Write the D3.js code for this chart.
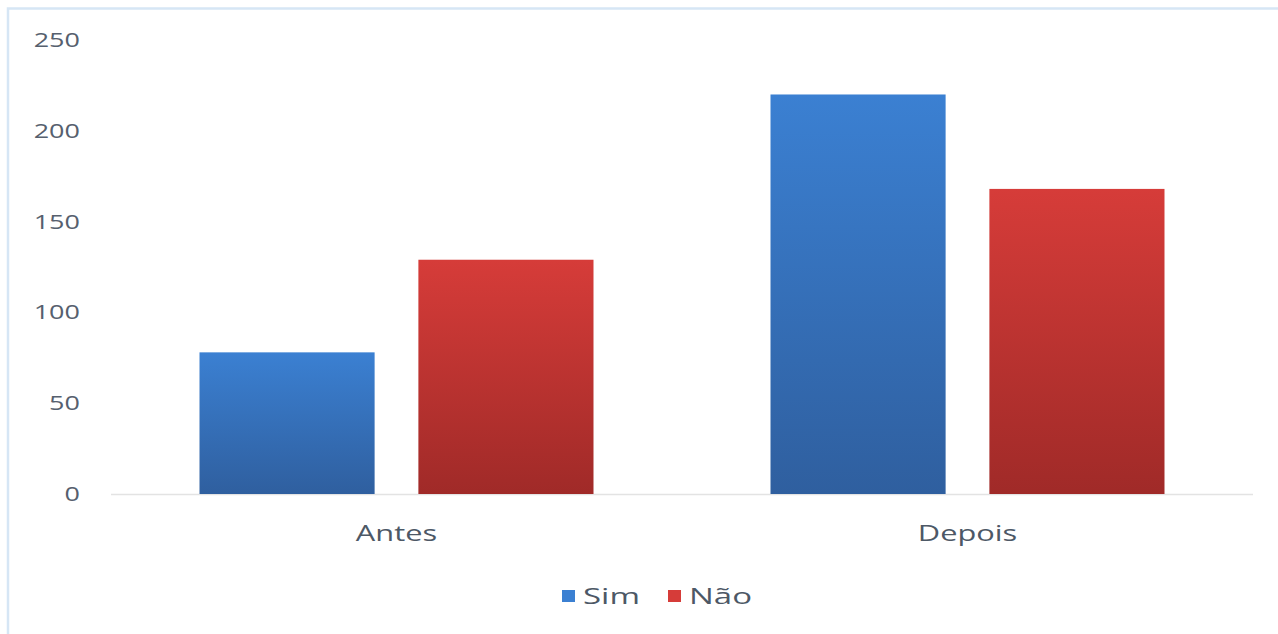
<!DOCTYPE html>
<html>
<head>
<meta charset="utf-8">
<script src="https://cdn.jsdelivr.net/npm/d3@7"></script>
<style>
  body { margin: 0; background: #fff; }
  svg { display: block; }
  text { font-family: "Open Sans", "DejaVu Sans", sans-serif; }
</style>
</head>
<body>
<svg id="chart" width="1278" height="634"></svg>
<script>
const categories = ['Antes', 'Depois']
const seriesNames = ['Sim', 'Não']
const simValues = [78, 220]
const naoValues = [129, 168]
const yTicks = [0, 50, 100, 150, 200, 250]

const data = categories.map((c, i) => ({cat: c, Sim: simValues[i], 'Não': naoValues[i]}))

const svg = d3.select('#chart')
const margin = {left: 111, right: 25, top: 40, bottom: 140}
const width = 1278, height = 634
const innerWidth = width - margin.left - margin.right
const innerHeight = height - margin.top - margin.bottom

// light frame lines on the left and top, like the original picture
svg.append('path')
    .attr('d', `M8,${height} V8.5 H${width}`)
    .attr('fill', 'none').attr('stroke', '#d6e6f5').attr('stroke-width', 2.5)

const defs = svg.append('defs')
const grads = {Sim: ['#3b80d2', '#2f5f9f'], 'Não': ['#d63c39', '#a02a28']}
Object.entries(grads).forEach(([k, c], i) => {
    const g = defs.append('linearGradient').attr('id', 'g' + i)
        .attr('x1', 0).attr('y1', 0).attr('x2', 0).attr('y2', 1)
    g.append('stop').attr('offset', '0%').attr('stop-color', c[0])
    g.append('stop').attr('offset', '100%').attr('stop-color', c[1])
})

const x0 = d3.scaleBand().domain(categories).range([0, innerWidth]).paddingInner(0.31).paddingOuter(0.155)
const x1 = d3.scaleBand().domain(seriesNames).range([0, x0.bandwidth()]).paddingInner(0.2)
const y = d3.scaleLinear().domain([0, 250]).range([innerHeight, 0])

const g = svg.append('g').attr('transform', `translate(${margin.left},${margin.top})`)

// baseline
g.append('line')
    .attr('x1', 0).attr('x2', innerWidth)
    .attr('y1', y(0) + 0.5).attr('y2', y(0) + 0.5)
    .attr('stroke', '#e3e3e3').attr('stroke-width', 1.5)

// y axis labels (the source text is stretched sideways)
const yAxis = g.append('g')
    .attr('transform', 'translate(-31,0)')
    .call(d3.axisLeft(y).tickValues(yTicks).tickSize(0).tickPadding(0))
yAxis.select('.domain').remove()
yAxis.selectAll('text')
    .style('font-size', '20px')
    .attr('fill', '#56606e')
    .attr('transform', 'scale(1.35,1)')

// x axis labels
const xAxis = g.append('g')
    .attr('transform', `translate(0,${innerHeight})`)
    .call(d3.axisBottom(x0).tickSize(0).tickPadding(31))
xAxis.select('.domain').remove()
xAxis.selectAll('text')
    .style('font-size', '22px')
    .attr('fill', '#4d5866')
    .attr('transform', 'scale(1.4,1)')

// bars
g.selectAll('.grp')
    .data(data)
    .join('g')
    .attr('class', 'grp')
    .attr('transform', d => `translate(${x0(d.cat)},0)`)
    .selectAll('rect')
    .data(d => seriesNames.map((s, i) => ({s, i, v: d[s]})))
    .join('rect')
    .attr('x', d => x1(d.s))
    .attr('y', d => y(d.v))
    .attr('width', x1.bandwidth())
    .attr('height', d => y(0) - y(d.v))
    .attr('fill', d => `url(#g${d.i})`)

// legend
const legend = svg.append('g').attr('transform', 'translate(562,596)')
const legX = [0, 106]
seriesNames.forEach((s, i) => {
    const lg = legend.append('g').attr('transform', `translate(${legX[i]},0)`)
    lg.append('rect').attr('x', 0).attr('y', -6).attr('width', 13).attr('height', 12)
        .attr('fill', grads[s][0])
    lg.append('text').attr('x', 14).attr('y', 0).attr('dy', '0.35em')
        .attr('transform', 'scale(1.5,1)')
        .style('font-size', '22px').attr('fill', '#4d5866').text(s)
})
</script>
</body>
</html>
